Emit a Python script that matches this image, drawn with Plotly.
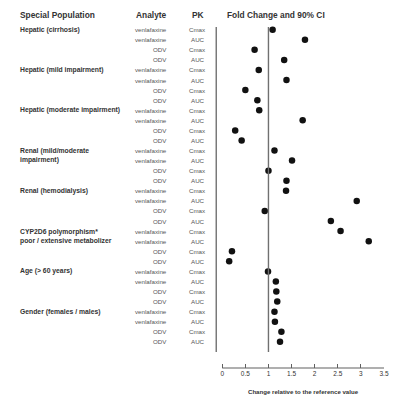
import plotly.graph_objects as go

# ---- data ----
groups = ["Hepatic (cirrhosis)", "Hepatic (mild impairment)", "Hepatic (moderate impairment)",
          "Renal (mild/moderate<br>impairment)", "Renal (hemodialysis)",
          "CYP2D6 polymorphism*<br>poor / extensive metabolizer", "Age (> 60 years)",
          "Gender (females / males)"]
analytes = ["venlafaxine", "venlafaxine", "ODV", "ODV"]
pk = ["Cmax", "AUC", "Cmax", "AUC"]
fold_change = [1.09, 1.79, 0.70, 1.34,
               0.79, 1.39, 0.50, 0.76,
               0.80, 1.74, 0.28, 0.42,
               1.13, 1.51, 1.00, 1.39,
               1.38, 2.91, 0.92, 2.35,
               2.56, 3.17, 0.21, 0.15,
               0.99, 1.16, 1.17, 1.19,
               1.13, 1.14, 1.28, 1.25]
x_ticks = [0, 0.5, 1, 1.5, 2, 2.5, 3, 3.5]
x_tick_text = ["0", "0.5", "1", "1.5", "2", "2.5", "3", "3.5"]
ref_value = 1
left_frame = -0.13

n_rows = len(fold_change)
rows = list(range(1, n_rows + 1))
row_analyte = [analytes[i % 4] for i in range(n_rows)]
row_pk = [pk[i % 4] for i in range(n_rows)]

W, H = 400, 400
ML, MR, MT, MB = 213, 11, 20, 32
PW, PH = W - ML - MR, H - MT - MB

def px(xp):
    return (xp - ML) / PW

def py(yp):
    return (H - MB - yp) / PH

FONT = "Liberation Sans, Arial, sans-serif"

fig = go.Figure()
fig.add_trace(go.Scatter(
    x=fold_change, y=rows, mode="markers",
    marker=dict(symbol="circle", size=6.5, color="#111111"),
    showlegend=False, hoverinfo="x"))

# reference lines
for xv in [left_frame, ref_value]:
    fig.add_shape(type="line", xref="x", yref="y", x0=xv, x1=xv, y0=0.73, y1=33.0,
                  line=dict(color="#707070", width=1.4))
# axis line
fig.add_shape(type="line", xref="x", yref="paper", x0=x_ticks[0], x1=x_ticks[-1], y0=0, y1=0,
              line=dict(color="#606060", width=1.2))

ann = []
# headers
hdr_font = dict(family=FONT, size=8.4, color="#333333")
ann.append(dict(text="<b>Special Population</b>", x=px(12.5), y=py(15), xanchor="left", yanchor="middle", font=hdr_font))
ann.append(dict(text="<b>Analyte</b>", x=px(168), y=py(15), xanchor="right", yanchor="middle", font=hdr_font))
ann.append(dict(text="<b>PK</b>", x=px(198), y=py(15), xanchor="center", yanchor="middle", font=hdr_font))
ann.append(dict(text="<b>Fold Change and 90% CI</b>", x=px(225), y=py(15), xanchor="left", yanchor="middle", font=hdr_font))

# group labels
grp_font = dict(family=FONT, size=6.8, color="#333333")
for gi, g in enumerate(groups):
    nlines = g.count("<br>") + 1
    first_row = gi * 4 + 1
    ann.append(dict(text="<b>" + g + "</b>", xref="paper", yref="y", x=px(12.5),
                    y=first_row + (nlines - 1) / 2, xanchor="left", yanchor="middle",
                    align="left", font=grp_font))

# row labels
lab_font = dict(family=FONT, size=6.2, color="#555555")
for r, a, p in zip(rows, row_analyte, row_pk):
    ann.append(dict(text=a, xref="paper", yref="y", x=px(168), y=r, xanchor="right",
                    yanchor="middle", font=lab_font))
    ann.append(dict(text=p, xref="paper", yref="y", x=px(197.5), y=r, xanchor="center",
                    yanchor="middle", font=lab_font))

# axis title
ann.append(dict(text="<b>Change relative to the reference value</b>", x=px((222.5 + 389.3) / 2),
                y=py(391), xanchor="center", yanchor="middle",
                font=dict(family=FONT, size=6.1, color="#333333")))

for a in ann:
    a.setdefault("xref", "paper")
    a.setdefault("yref", "paper")
    a["showarrow"] = False

row_px0 = 29.7
row_step = 10.07
y_top = 1 + (MT - row_px0) / row_step
y_bot = 1 + (H - MB - row_px0) / row_step

fig.update_layout(
    width=W, height=H,
    margin=dict(l=ML, r=MR, t=MT, b=MB),
    paper_bgcolor="white", plot_bgcolor="white",
    xaxis=dict(range=[-0.2, 3.5], tickvals=x_ticks, ticktext=x_tick_text,
               ticks="inside", ticklen=4, tickwidth=1, tickcolor="#606060",
               showgrid=False, zeroline=False, showline=False,
               tickfont=dict(family=FONT, size=6.5, color="#333333")),
    yaxis=dict(range=[y_bot, y_top], visible=False, showgrid=False, zeroline=False),
    annotations=ann,
    showlegend=False,
)

fig.write_html("out.html")
